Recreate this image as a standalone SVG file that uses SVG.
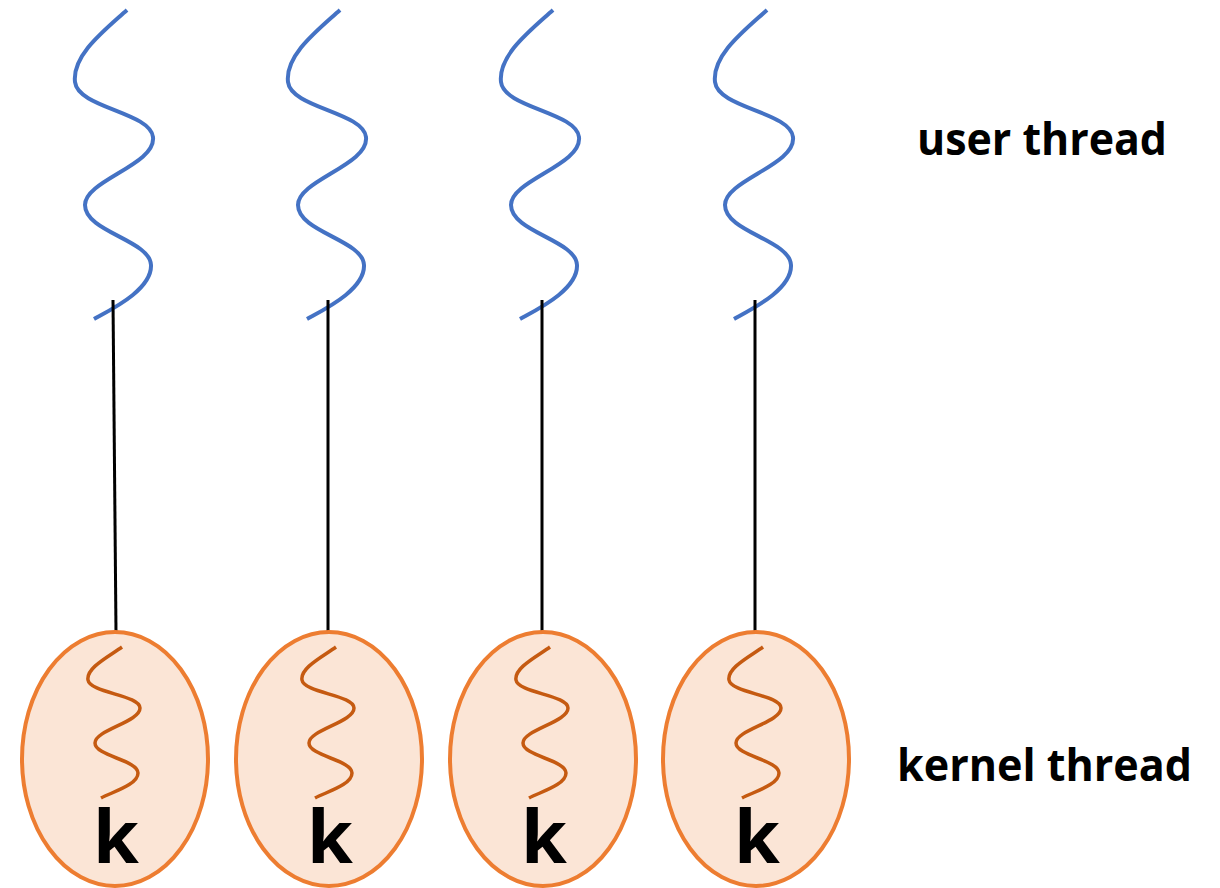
<svg xmlns="http://www.w3.org/2000/svg" width="1220" height="888" viewBox="0 0 1220 888">
<style>
.user{fill:none;stroke:#4472C4;stroke-width:4;stroke-linecap:butt}
.kern{fill:none;stroke:#C55A11;stroke-width:3.5}
.ell{fill:#FBE5D6;stroke:#ED7D31;stroke-width:4}
.conn{stroke:#000;stroke-width:3}
.lbl{font-family:"Open Sans","Liberation Sans",sans-serif;font-weight:bold;fill:#000}
.k{font-family:"Open Sans","Liberation Sans",sans-serif;font-weight:bold;font-size:74px;fill:#000;text-anchor:middle}
</style>
<defs>
<path id="uw" d="M127,10 C105,30 72,55 75,82 C78,108 150,112 153,137 C156,165 85,180 85,205 C85,232 150,240 151,265 C152,290 110,310 94,319"/>
<path id="kw" d="M122,647 C108,657 86,668 88,680 C90,693 140,695 140,708 C140,722 95,730 95,743 C95,756 138,760 138,773 C138,785 112,792 101,798"/>
</defs>
<rect width="1220" height="888" fill="#fff"/>
<g id="user-threads">
<g id="user1"><use href="#uw" class="user"/></g>
<g id="user2" transform="translate(213,0)"><use href="#uw" class="user"/></g>
<g id="user3" transform="translate(426,0)"><use href="#uw" class="user"/></g>
<g id="user4" transform="translate(640,0)"><use href="#uw" class="user"/></g>
</g>
<g id="connectors">
<line class="conn" x1="113" y1="300" x2="116" y2="632"/>
<line class="conn" x1="328" y1="300" x2="328" y2="632"/>
<line class="conn" x1="542" y1="300" x2="542" y2="632"/>
<line class="conn" x1="755" y1="300" x2="755" y2="632"/>
</g>
<g id="kernel1"><ellipse class="ell" cx="115" cy="759" rx="93" ry="127"/><use href="#kw" class="kern"/><text class="k" x="116" y="863">k</text></g>
<g id="kernel2" transform="translate(214,0)"><ellipse class="ell" cx="115" cy="759" rx="93" ry="127"/><use href="#kw" class="kern"/><text class="k" x="116" y="863">k</text></g>
<g id="kernel3" transform="translate(428,0)"><ellipse class="ell" cx="115" cy="759" rx="93" ry="127"/><use href="#kw" class="kern"/><text class="k" x="116" y="863">k</text></g>
<g id="kernel4" transform="translate(641,0)"><ellipse class="ell" cx="115" cy="759" rx="93" ry="127"/><use href="#kw" class="kern"/><text class="k" x="116" y="863">k</text></g>
<g id="labels">
<text class="lbl" x="917" y="155" font-size="44" textLength="250" lengthAdjust="spacingAndGlyphs">user thread</text>
<text class="lbl" x="897" y="781" font-size="44" textLength="295" lengthAdjust="spacingAndGlyphs">kernel thread</text>
</g>
</svg>
